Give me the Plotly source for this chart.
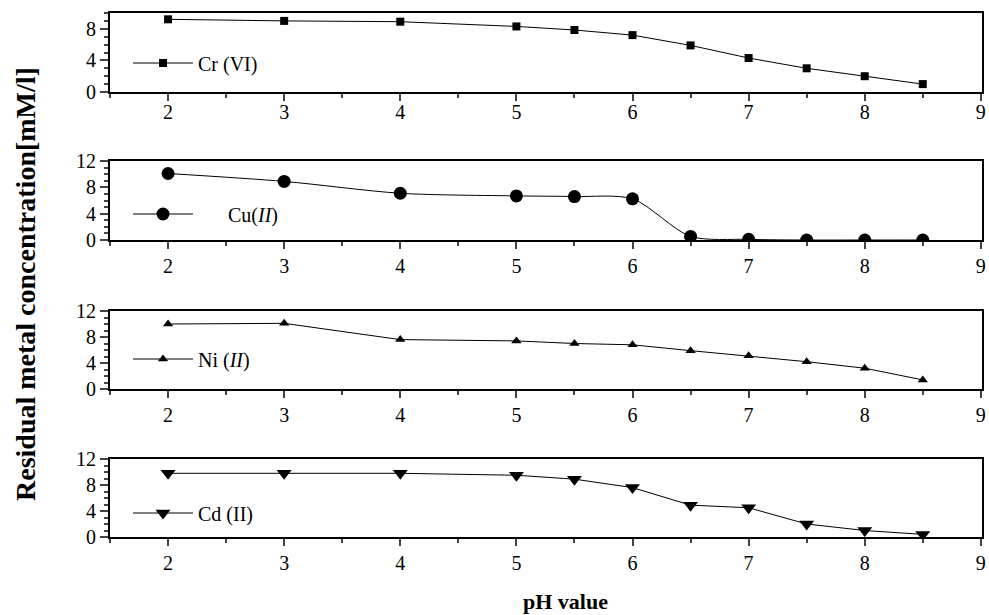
import plotly.graph_objects as go

ph = [2, 3, 4, 5, 5.5, 6, 6.5, 7, 7.5, 8, 8.5]
cr_vi = [9.2, 9.0, 8.9, 8.3, 7.85, 7.2, 5.9, 4.3, 3.0, 2.0, 1.0]
cu_ii = [10.1, 8.9, 7.1, 6.7, 6.6, 6.25, 0.55, 0.1, 0.0, 0.0, 0.0]
ni_ii = [10.0, 10.1, 7.6, 7.4, 7.0, 6.8, 5.9, 5.1, 4.2, 3.2, 1.4]
cd_ii = [9.8, 9.8, 9.8, 9.5, 8.9, 7.6, 4.9, 4.5, 2.0, 1.0, 0.4]

series_names = ["Cr (VI)", "\u00a0\u00a0\u00a0\u00a0\u00a0\u00a0Cu(<i>II</i>)", "Ni (<i>II</i>)", "Cd (II)"]
series_values = [cr_vi, cu_ii, ni_ii, cd_ii]
symbols = ["square", "circle", "triangle-up", "triangle-down"]
msizes = [8, 13, 9, 13]
shapes_line = ["linear", "spline", "linear", "linear"]
y_ranges = [[0, 10], [0, 12], [0, 12], [0, 12]]
x_ticks = [2, 3, 4, 5, 6, 7, 8, 9]
y_ticks = [0, 4, 8, 12]

FONT = "Liberation Serif, Times New Roman, serif"
W, H = 989, 615
ML, MR, MT = 110, 7, 13
bottom_px = 537
MB = H - bottom_px
PH = H - MT - MB
PW = W - ML - MR
panels = [(13, 92), (161, 240), (311, 389), (459, 537)]
legend_y = [63, 214, 359, 513]
standoffs = [-6, 0, 0, 0]

fig = go.Figure()
layout = dict(
    width=W, height=H,
    margin=dict(l=ML, r=MR, t=MT, b=MB, autoexpand=False),
    paper_bgcolor="white", plot_bgcolor="white",
    font=dict(family=FONT, size=20, color="black"),
    showlegend=True,
)

for i in range(4):
    k = "" if i == 0 else str(i + 1)
    top, bot = panels[i]
    d0 = (bottom_px - bot) / PH
    d1 = (bottom_px - top) / PH
    fig.add_trace(go.Scatter(
        x=ph, y=series_values[i], name=series_names[i],
        mode="lines+markers",
        line=dict(color="black", width=1, shape=shapes_line[i], smoothing=0.8),
        marker=dict(symbol=symbols[i], size=msizes[i], color="black"),
        xaxis="x" + k, yaxis="y" + k,
        legend="legend" + k,
    ))
    layout["xaxis" + k] = dict(
        domain=[0, 1], anchor="y" + k, range=[1.5, 9.01], automargin=False,
        tickvals=x_ticks, ticks="outside", ticklen=7, tickwidth=2,
        ticklabelstandoff=standoffs[i], ticklabeloverflow="allow",
        showline=True, linewidth=2, linecolor="black", mirror=True,
        showgrid=False, zeroline=False,
        minor=dict(dtick=0.5, tick0=1.5, ticks="outside", ticklen=4, tickwidth=1.5, showgrid=False),
        tickfont=dict(family=FONT, size=20),
    )
    yr = y_ranges[i]
    layout["yaxis" + k] = dict(
        domain=[d0, d1], anchor="x" + k, range=yr, automargin=False,
        tickvals=[t for t in y_ticks if t <= yr[1]], ticks="outside", ticklen=8, tickwidth=2,
        showline=True, linewidth=2, linecolor="black", mirror=True,
        showgrid=False, zeroline=False,
        minor=dict(dtick=1, tick0=0, ticks="outside", ticklen=4, tickwidth=1.5, showgrid=False),
        tickfont=dict(family=FONT, size=20),
    )
    ly = (bottom_px - legend_y[i]) / PH
    layout["legend" + k] = dict(
        x=(128 - ML) / PW, y=ly, xanchor="left", yanchor="middle",
        bgcolor="rgba(0,0,0,0)", borderwidth=0, itemwidth=60,
        font=dict(family=FONT, size=20, color="black"),
        tracegroupgap=0,
    )

fig.update_layout(**layout)

fig.add_annotation(
    text="<b>Residual metal concentration[mM/l]</b>", textangle=-90,
    xref="paper", yref="paper", x=(25 - ML) / PW, y=(bottom_px - 284) / PH,
    xanchor="center", yanchor="middle", showarrow=False,
    font=dict(family=FONT, size=28, color="black"),
)
fig.add_annotation(
    text="<b>pH value</b>",
    xref="paper", yref="paper", x=(565 - ML) / PW, y=(bottom_px - 601) / PH,
    xanchor="center", yanchor="middle", showarrow=False,
    font=dict(family=FONT, size=22, color="black"),
)

fig.write_html(
    "out.html",
    config={"displayModeBar": False},
    post_script="document.body.style.margin='0';document.body.style.overflow='hidden';",
)
